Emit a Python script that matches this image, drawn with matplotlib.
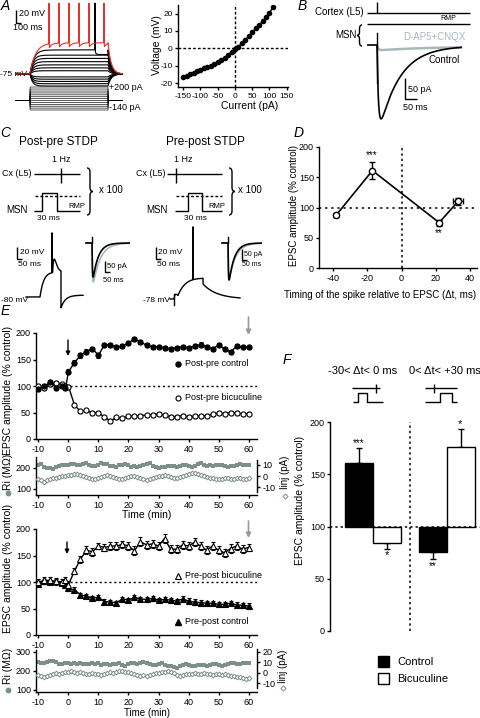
import numpy as np
import matplotlib
matplotlib.use('Agg')
import matplotlib.pyplot as plt
from matplotlib.path import Path
from matplotlib.patches import PathPatch, Rectangle

plt.rcParams['font.family'] = ['Liberation Sans', 'DejaVu Sans']
plt.rcParams['axes.unicode_minus'] = False
plt.rcParams['axes.linewidth'] = 1.0
plt.rcParams['xtick.major.width'] = 1.0
plt.rcParams['ytick.major.width'] = 1.0
plt.rcParams['xtick.major.size'] = 2.5
plt.rcParams['ytick.major.size'] = 2.5
plt.rcParams['xtick.major.pad'] = 1.5
plt.rcParams['ytick.major.pad'] = 1.2
plt.rcParams['xtick.labelsize'] = 6.5
plt.rcParams['ytick.labelsize'] = 6.5

# ======================= DATA =======================
# A: I-V relation
iv_current = [-150, -140, -130, -120, -110, -100, -90, -80, -70, -60, -50, -40, -30,
              -20, -10, 0, 10, 20, 30, 40, 50, 60, 70, 80, 90, 100, 110]
iv_voltage = [-16.5, -16, -15, -14, -13, -12.2, -11.5, -10.8, -10, -9, -8, -6.8, -5.3,
              -3.8, -2, -0.5, 1, 3, 5, 7, 9.3, 11.5, 13.5, 15.5, 18, 20.5, 23.5]
# A: sample voltage traces (steady-state deflection, mV) and injected steps (pA)
a_levels = [-18.5, -15, -11.5, -8, -4.5, 5, 9.5, 14, 19, 24, 29]
a_top_level = 37
a_red_level = 48
a_red_spike_times = [486, 629, 771, 914, 1057, 1271]
a_black_spike_time = 1143
a_steps = [-140, -112, -84, -56, -28, 0, 28, 56, 84, 112, 140, 170, 200]

# D: STDP curve
d_dt = [-38, -17, 22, 33]
d_amp = [88, 161, 75, 110]
d_amp_err = [3, 14, 5, 6]
d_dt_err = [0, 0, 0, 3]

# E: time courses
t_main = [-10, -8, -6, -4, -2, -1] + list(range(0, 61, 2))
postpre_ctrl = [95, 100, 107, 96, 100, 96,
                127, 144, 158, 165, 170, 158, 178, 178, 173, 175, 181, 189, 183, 177, 174, 174,
                172, 170, 172, 174, 172, 175, 178, 174, 170, 177, 170, 164, 175, 173, 173]
postpre_ctrl_err = [4, 3, 4, 3, 3, 4, 5, 5, 5, 5, 4, 5, 4, 4, 4, 4, 4, 4, 4, 4, 4, 4,
                    4, 4, 4, 4, 4, 4, 5, 4, 4, 4, 4, 4, 4, 4, 4]
postpre_bic = [100, 96, 103, 106, 103, 100,
               99, 64, 52, 54, 49, 50, 41, 34, 41, 39, 43, 43, 44, 45, 46, 47,
               45, 42, 42, 44, 42, 43, 43, 44, 47, 49, 48, 50, 49, 47, 48]
postpre_bic_err = [3, 3, 3, 3, 3, 3, 3, 3, 3, 3, 3, 3, 3, 3, 3, 3, 3, 3, 3, 3, 3, 3,
                   3, 3, 3, 3, 3, 3, 3, 3, 3, 3, 3, 3, 3, 3, 3]
prepost_bic = [100, 103, 103, 101, 100, 103,
               95, 121, 143, 160, 157, 168, 165, 168, 168, 171, 168, 159, 176, 170, 172, 168,
               182, 162, 162, 170, 168, 175, 168, 160, 168, 160, 155, 163, 168, 162, 165]
prepost_bic_err = [5, 6, 6, 6, 6, 6, 7, 6, 7, 7, 7, 6, 7, 7, 7, 7, 7, 8, 8, 7, 7, 7,
                   8, 8, 8, 7, 7, 8, 7, 7, 8, 7, 7, 8, 8, 7, 7]
prepost_ctrl = [97, 101, 100, 102, 98, 95,
                88, 85, 76, 73, 70, 71, 63, 62, 61, 68, 66, 71, 68, 67, 69, 66,
                67, 66, 64, 68, 64, 62, 61, 60, 60, 58, 58, 60, 57, 56, 55]
prepost_ctrl_err = [4, 4, 4, 4, 4, 5, 5, 5, 4, 4, 4, 4, 4, 4, 4, 4, 4, 5, 4, 4, 4, 4,
                    4, 4, 4, 5, 5, 5, 5, 4, 4, 4, 4, 4, 5, 5, 5]

t_ri = list(range(-10, 61))
ri_top = [215, 218, 205, 200, 198, 196, 205, 210, 212, 215,
          214, 218, 220, 215, 212, 218, 222, 215, 210, 208,
          212, 225, 220, 218, 210, 208, 205, 212, 215, 220,
          212, 206, 210, 202, 208, 215, 220, 222, 210, 205,
          200, 204, 206, 208, 210, 210, 206, 208, 212, 215,
          210, 205, 210, 218, 222, 214, 208, 212, 210, 215,
          216, 214, 210, 206, 208, 210, 215, 218, 212, 214, 214]
inj_top = [-3, -4, -5, -4, -3, -2, -2, -1, 0, 0,
           1, 1, 2, 2, 1, 0, -1, -2, -3, -3,
           -2, -1, 0, 1, 0, -1, -2, -3, -3, -2,
           -1, 0, 0, -1, -2, -3, -4, -3, -2, -1,
           0, 0, 1, 0, -1, -2, -2, -1, 0, 1,
           2, 3, 3, 2, 1, 0, -1, -2, -2, -3,
           -3, -3, -2, -2, -3, -3, -2, -2, -3, -3, -2]
ri_bot = [245, 240, 242, 248, 252, 250, 245, 238, 235, 240,
          242, 238, 240, 236, 240, 238, 235, 238, 240, 236,
          240, 232, 238, 236, 230, 234, 238, 240, 232, 228,
          235, 240, 242, 238, 244, 248, 242, 236, 232, 230,
          235, 240, 232, 228, 225, 222, 215, 228, 232, 236,
          230, 226, 228, 230, 232, 230, 228, 232, 236, 234,
          230, 228, 232, 236, 240, 242, 238, 236, 240, 242, 240]
inj_bot = [-2, -3, -4, -3, -2, -1, 0, -1, 0, 1,
           1, 2, 1, 0, 1, 0, -1, -1, 0, -1,
           -1, -2, -1, 0, 1, 0, 1, 2, 2, 1,
           1, 0, -1, -2, -3, -2, -3, -2, -1, 0,
           0, 1, 1, 2, 1, 0, -2, -3, -2, -1,
           -1, -1, 0, -1, -1, 0, -1, -1, -2, -1,
           -1, -2, -1, -2, -3, -3, -4, -4, -5, -6, -5]

# F: summary bars
f_groups = ['-30< \u0394t< 0 ms', '0< \u0394t< +30 ms']
f_ctrl = [161, 76]
f_ctrl_err = [14, 7]
f_bic = [84, 176]
f_bic_err = [6, 17]

for arr in (postpre_ctrl, postpre_ctrl_err, postpre_bic, postpre_bic_err,
            prepost_bic, prepost_bic_err, prepost_ctrl, prepost_ctrl_err):
    assert len(arr) == len(t_main), len(arr)
for arr in (ri_top, inj_top, ri_bot, inj_bot):
    assert len(arr) == len(t_ri), len(arr)

# ======================= LAYOUT HELPERS =======================
W, H = 480, 718
fig = plt.figure(figsize=(W / 100, H / 100), dpi=100)


def box(x0, y0, x1, y1):
    ax = fig.add_axes([x0 / W, 1 - y1 / H, (x1 - x0) / W, (y1 - y0) / H])
    ax.patch.set_alpha(0)
    return ax


cv = box(0, 0, W, H)
cv.set_xlim(0, W)
cv.set_ylim(H, 0)
cv.axis('off')

GREY = '#7d8f89'
LGREY = '#a7b8bb'
RED = '#e8312b'


def T(x, y, s, fs=7, ha='center', va='center', **kw):
    cv.text(x, y, s, fontsize=fs, ha=ha, va=va, **kw)


def L(xs, ys, **kw):
    kw.setdefault('color', 'k')
    kw.setdefault('lw', 1)
    cv.plot(xs, ys, solid_capstyle='butt', **kw)


def brace(x, y0, y1, w, right=True):
    s = 1 if right else -1
    ym = (y0 + y1) / 2
    xm = x + s * w / 2
    xt = x + s * w
    r = min(4, (y1 - y0) / 6)
    verts = [(x, y0), (xm, y0), (xm, y0 + r), (xm, ym - r), (xm, ym), (xt, ym),
             (xm, ym), (xm, ym + r), (xm, y1 - r), (xm, y1), (x, y1)]
    codes = [Path.MOVETO, Path.CURVE3, Path.CURVE3, Path.LINETO, Path.CURVE3, Path.CURVE3,
             Path.CURVE3, Path.CURVE3, Path.LINETO, Path.CURVE3, Path.CURVE3]
    cv.add_patch(PathPatch(Path(verts, codes), fc='none', ec='k', lw=1))


def style(ax):
    ax.spines['top'].set_visible(False)
    ax.spines['right'].set_visible(False)


def dexp(t, amp, tr, td):
    t = np.asarray(t, float)
    tc = np.clip(t, 0, None)
    f = np.where(t > 0, np.exp(-tc / td) - np.exp(-tc / tr), 0)
    tp = tr * td / (td - tr) * np.log(td / tr)
    fmax = np.exp(-tp / td) - np.exp(-tp / tr)
    return amp * f / fmax


def letter(x, y, s):
    T(x, y, s, fs=10, style='italic')

# ======================= PANEL A =======================
letter(5, 6, 'A')
L([16, 16, 21], [10, 23, 23])
T(19, 14, '20 mV', fs=6.5, ha='left')
T(13, 28, '100 ms', fs=6.5, ha='left')
T(0.5, 74, '-75 mV', fs=6, ha='left')
T(109, 88, '+200 pA', fs=6.5, ha='left')
T(109, 108, '-140 pA', fs=6.5, ha='left')

ax_a = box(15, 0, 123, 97)
ax_a.set_xlim(0, 1543)
ax_a.set_ylim(-35.4, 113.8)
ax_a.axis('off')
ta = np.linspace(0, 1543, 5000)
t_on, t_off = 214, 1329


def step_resp(level, tau=40, tau_off=45):
    v = np.zeros_like(ta)
    on = (ta >= t_on) & (ta < t_off)
    v[on] = level * (1 - np.exp(-(ta[on] - t_on) / tau))
    v_end = level * (1 - np.exp(-(t_off - t_on) / tau))
    off = ta >= t_off
    v[off] = v_end * np.exp(-(ta[off] - t_off) / tau_off)
    return v


def add_spike(v, ts, peak=109, width=2.5):
    g = np.exp(-((ta - ts) / width) ** 2)
    return v + (peak - v) * g


for lev in a_levels:
    ax_a.plot(ta, step_resp(lev, tau=35 if lev < 0 else 45), color='k', lw=0.8)
vb = step_resp(a_top_level, tau=55)
after = ta > a_black_spike_time
vb[after] -= 7 * (1 - np.exp(-(ta[after] - a_black_spike_time) / 10)) * (ta[after] < t_off)
vb = add_spike(vb, a_black_spike_time)
ax_a.plot(ta, vb, color='k', lw=0.8)
vr = step_resp(a_red_level, tau=80)
for ts in a_red_spike_times:
    m = (ta > ts) & (ta < t_off)
    vr[m] -= 7 * np.exp(-(ta[m] - ts) / 35)
for ts in a_red_spike_times:
    vr = add_spike(vr, ts)
ax_a.plot(ta, vr, color=RED, lw=0.8)

ax_i = box(15, 85, 123, 112)
ax_i.set_xlim(0, 1543)
ax_i.set_ylim(-169.6, 229.6)
ax_i.axis('off')
for amp in a_steps:
    ii = np.where((ta >= t_on) & (ta < t_off), amp, 0)
    ax_i.plot(ta, ii, color='k', lw=0.45)

# I-V plot
ax_iv = box(178, 5, 288, 87)
style(ax_iv)
ax_iv.set_xlim(-165, 153.6)
ax_iv.set_ylim(-22.2, 24.9)
ax_iv.axhline(0, color='k', lw=1, ls=(0, (2, 1.5)))
ax_iv.axvline(0, color='k', lw=1, ls=(0, (2, 1.5)))
ax_iv.plot(iv_current, iv_voltage, '-o', color='k', ms=3, lw=1)
ax_iv.set_xticks([-150, -100, -50, 0, 50, 100, 150])
ax_iv.set_yticks([-20, -10, 0, 10, 20])
ax_iv.tick_params(labelsize=6)
T(157, 45, 'Voltage (mV)', fs=7.5, rotation=90)
T(250, 106, 'Current (pA)', fs=7.5)

# ======================= PANEL B =======================
letter(302, 6, 'B')
T(364, 12, 'Cortex (L5)', fs=7, ha='right')
L([367, 470], [13, 13])
L([377, 377], [2, 13])
L([367, 470], [24, 24])
T(448, 19, 'RMP', fs=5)
T(346, 35, 'MSN', fs=7)
brace(362, 25, 46, 5, right=False)
T(434, 37, 'D-AP5+CNQX', fs=7, color=LGREY)
T(444, 60, 'Control', fs=7)
L([405, 405, 417], [78, 99, 99])
T(408, 89, '50 pA', fs=6.5, ha='left')
T(403, 108, '50 ms', fs=6.5, ha='left')

ax_b = box(360, 30, 475, 125)
ax_b.set_xlim(-70.8, 408)
ax_b.set_ylim(-190.5, 35.7)
ax_b.axis('off')
tb = np.linspace(-38, 350, 3000)
grey_b = np.where(tb > 2, dexp(tb - 2, -8, 5, 200) - 4, np.nan)
ax_b.plot(tb, grey_b, color=LGREY, lw=1.8)
ax_b.plot(tb, dexp(tb, -174, 6, 85) - 2 * (tb > 0), color='k', lw=1.2)
ax_b.plot([0, 0], [28, -90], color='k', lw=1)

# ======================= PANEL C =======================
letter(5, 133, 'C')
T(58, 142, 'Post-pre STDP', fs=8.5)
T(205, 142, 'Pre-post STDP', fs=8.5)
for (cx_l, cx_r, tick, st0, sta, stb, st1, brx, lab_x, x100, rmp_x, ms_x, hz_x, msn_x) in [
        (34, 80, 61, 34, 42, 57, 80, 87, 31, 111, 77, 48, 61, 17),
        (167, 222, 176, 175, 188, 202, 222, 229, 166, 250, 217, 195, 183, 157)]:
    T(hz_x, 159, '1 Hz', fs=6.5)
    T(lab_x, 174, 'Cx (L5)', fs=6.5, ha='right')
    L([cx_l, cx_r], [174, 174])
    L([tick, tick], [168, 183])
    L([st0, sta, sta, stb, stb, st1], [211, 211, 193, 193, 211, 211])
    L([st0 + 1, st1], [196, 196], ls=(0, (2, 1.5)))
    brace(brx, 168, 215, 6, right=True)
    T(x100, 190, 'x 100', fs=7)
    T(msn_x, 210, 'MSN', fs=7)
    T(rmp_x, 206, 'RMP', fs=5.5)
    T(ms_x, 218, '30 ms', fs=6)

# scale bars
L([17, 17, 22], [247, 259, 259])
T(20, 252, '20 mV', fs=6, ha='left')
T(18, 264, '50 ms', fs=6, ha='left')
L([105, 105, 110], [261, 272, 272])
T(107, 266, '50 pA', fs=5.5, ha='left')
T(103, 281, '50 ms', fs=5.5, ha='left')
L([156, 156, 161], [247, 259, 259])
T(158, 252, '20 mV', fs=6, ha='left')
T(157, 264, '50 ms', fs=6, ha='left')
L([242, 242, 247], [249, 260, 260])
T(244, 254, '50 pA', fs=5, ha='left')
T(242, 265, '50 ms', fs=5, ha='left')
T(1, 300, '-80 mV', fs=6, ha='left')
T(170, 300, '-78 mV', fs=6, ha='right')

# post-pre spike trace
ax_cs1 = box(25, 225, 85, 312)
ax_cs1.set_xlim(0, 300)
ax_cs1.set_ylim(-105, 40)
ax_cs1.axis('off')
tc = np.linspace(5, 290, 4000)
vc = np.full_like(tc, -80.0)
on = (tc >= 75) & (tc < 180)
vc[on] += 42 * (1 - np.exp(-(tc[on] - 75) / 18))
ep = (tc > 138) & (tc < 180)
vc[ep] += 22 * ((tc[ep] - 138) / 8) * np.exp(1 - (tc[ep] - 138) / 8)
vc = np.where(np.abs(tc - 135) < 1.2, 26.7, vc)
off = tc >= 180
vc[off] = -77 - 21 * np.exp(-(tc[off] - 180) / 22)
ax_cs1.plot(tc, vc, color='k', lw=1)

# pre-post spike trace
ax_cs2 = box(165, 222, 245, 312)
ax_cs2.set_xlim(0, 400)
ax_cs2.set_ylim(-99.7, 50.3)
ax_cs2.axis('off')
tc2 = np.linspace(25, 375, 4000)
vc2 = np.full_like(tc2, -78.0)
ep2 = tc2 > 45
vc2[ep2] += 8 * ((tc2[ep2] - 45) / 10) * np.exp(1 - (tc2[ep2] - 45) / 10)
on2 = (tc2 >= 65) & (tc2 < 190)
vc2[on2] += 35 * (1 - np.exp(-(tc2[on2] - 65) / 30))
vc2 = np.where(np.abs(tc2 - 140) < 1.2, 42, vc2)
off2 = tc2 >= 190
vc2[off2] = -78 + 25 * np.exp(-(tc2[off2] - 190) / 70)
ax_cs2.plot(tc2, vc2, color='k', lw=1)
ax_cs2.plot([45, 45], [-70, -88], color='k', lw=1)

# EPSC traces
for (x0, x1, stim, a_blk, a_gry, td_b, td_g) in [(84, 130, 67, -170, -195, 45, 60),
                                                  (220, 262, 67, -185, -170, 45, 55)]:
    axe = box(x0, 232, x1, 290)
    axe.set_xlim(0, (x1 - x0) / 0.12)
    axe.set_ylim(-235, 55)
    axe.axis('off')
    te = np.linspace(17, (x1 - x0) / 0.12 - 5, 2000)
    axe.plot(te, dexp(te - stim, a_gry, 3.5, td_g), color=LGREY, lw=1.2)
    axe.plot(te, dexp(te - stim, a_blk, 3, td_b), color='k', lw=1.2)
    axe.plot([stim, stim], [0, 30], color='k', lw=1)

# ======================= PANEL D =======================
letter(299, 133, 'D')
ax_d = box(319, 147, 477, 268)
style(ax_d)
ax_d.set_xlim(-48.2, 44.1)
ax_d.set_ylim(0, 200)
ax_d.axhline(100, color='k', lw=1.1, ls=(0, (1.5, 2.5)))
ax_d.axvline(0, color='k', lw=1.1, ls=(0, (1.5, 2)))
ax_d.plot(d_dt, d_amp, '-', color='k', lw=1.2)
ax_d.errorbar(d_dt, d_amp, yerr=d_amp_err, xerr=d_dt_err, fmt='o', ms=4.5, mfc='w',
              mec='k', mew=1, ecolor='k', elinewidth=1, capsize=2, zorder=3)
ax_d.set_xticks([-40, -20, 0, 20, 40])
ax_d.set_yticks([0, 50, 100, 150, 200])
ax_d.tick_params(labelsize=6.5)
T(372, 155, '***', fs=7)
T(439, 233, '**', fs=7)
T(294, 205, 'EPSC amplitude (% control)', fs=7, rotation=90)
T(380, 295, 'Timing of the spike relative to EPSC (\u0394t, ms)', fs=7)

# ======================= PANEL E =======================
letter(5, 311, 'E')
XL = (-10.83, 62.83)


def main_axes(y0, y1):
    ax = box(36, y0, 257, y1)
    style(ax)
    ax.set_xlim(*XL)
    ax.set_ylim(0, 200)
    ax.set_xticks(range(-10, 61, 10))
    ax.set_yticks([0, 50, 100, 150, 200])
    ax.plot([-10.83, 62.83], [100, 100], color='k', lw=1, ls=(0, (1.5, 2)))
    return ax


def ri_axes(y0, y1, ylim, yticks, iy0, iy1, ilim, iticks):
    ax = box(36, y0, 257, y1)
    style(ax)
    ax.set_xlim(*XL)
    ax.set_ylim(*ylim)
    ax.set_xticks(range(-10, 61, 10))
    ax.set_yticks(yticks)
    ax2 = box(36, iy0, 257, iy1)
    ax2.set_xlim(*XL)
    ax2.set_ylim(*ilim)
    for s in ['top', 'left', 'bottom']:
        ax2.spines[s].set_visible(False)
    ax2.set_xticks([])
    ax2.yaxis.tick_right()
    ax2.set_yticks(iticks)
    return ax, ax2


def emain(ax, y, err, marker, filled):
    ax.errorbar(t_main, y, yerr=err, fmt='-' + marker, color='k', ms=3.7 if marker == 'o' else 4,
                mfc='k' if filled else 'w', mec='k', mew=0.8, lw=1, elinewidth=0.8,
                capsize=1.6, capthick=0.8, zorder=3)


ax_e1 = main_axes(333, 439)
emain(ax_e1, postpre_bic, postpre_bic_err, 'o', False)
emain(ax_e1, postpre_ctrl, postpre_ctrl_err, 'o', True)
ax_r1, ax_j1 = ri_axes(457, 495, (71, 252), [100, 200], 460, 492, (-14.5, 14.5), [-10, 0, 10])
ax_r1.plot(t_ri, ri_top, 's', color=GREY, ms=2.6, mew=0)
ax_j1.plot(t_ri, inj_top, 'D', mfc='w', mec=GREY, ms=2.4, mew=0.7)

ax_e2 = main_axes(529, 635)
emain(ax_e2, prepost_ctrl, prepost_ctrl_err, '^', True)
emain(ax_e2, prepost_bic, prepost_bic_err, '^', False)
ax_r2, ax_j2 = ri_axes(650, 692, (89, 310), [100, 200, 300], 649, 688, (-14.7, 22.8),
                       [-10, 0, 10, 20])
ax_r2.plot(t_ri, ri_bot, 's', color=GREY, ms=2.6, mew=0)
ax_j2.plot(t_ri, inj_bot, 'D', mfc='w', mec=GREY, ms=2.4, mew=0.7)

# arrows
arr_k = dict(arrowstyle='-|>', color='k', lw=1, mutation_scale=6, shrinkA=0, shrinkB=0)
arr_g = dict(arrowstyle='-|>', color='#999999', lw=1.2, mutation_scale=7, shrinkA=0, shrinkB=0)
cv.annotate('', xy=(68, 356), xytext=(68, 340), arrowprops=arr_k)
cv.annotate('', xy=(248.5, 335), xytext=(248.5, 317), arrowprops=arr_g)
cv.annotate('', xy=(67, 554), xytext=(67, 542), arrowprops=arr_k)
cv.annotate('', xy=(248.5, 538), xytext=(248.5, 521), arrowprops=arr_g)

# legends E
cv.plot(178, 364, 'o', color='k', ms=3.6)
T(185, 364, 'Post-pre control', fs=6.5, ha='left')
cv.plot(178, 398, 'o', mfc='w', mec='k', ms=3.6, mew=0.8)
T(185, 398, 'Post-pre bicuculine', fs=6.5, ha='left')
cv.plot(178, 576, '^', mfc='w', mec='k', ms=3.8, mew=0.8)
T(185, 576, 'Pre-post bicuculine', fs=6.5, ha='left')
cv.plot(178, 622, '^', color='k', ms=3.8)
T(185, 622, 'Pre-post control', fs=6.5, ha='left')

# axis labels E
T(8, 390, 'EPSC amplitude (% control)', fs=7.5, rotation=90)
T(8, 568, 'EPSC amplitude (% control)', fs=7.5, rotation=90)
T(8, 472, 'Ri (M\u03a9)', fs=7.5, rotation=90)
cv.plot(8, 493, 'o', color=GREY, ms=3.2)
T(8, 666, 'Ri (M\u03a9)', fs=7.5, rotation=90)
cv.plot(8, 690, 'o', color=GREY, ms=3.2)
T(285, 472, 'Iinj (pA)', fs=7, rotation=90)
cv.plot(285, 496, 'D', mfc='w', mec=GREY, ms=2.6, mew=0.7)
T(283, 666, 'Iinj (pA)', fs=7, rotation=90)
cv.plot(283, 688, 'D', mfc='w', mec=GREY, ms=2.6, mew=0.7)
T(147, 515, 'Time (min)', fs=7.5)
T(147, 712.5, 'Time (min)', fs=7)

# ======================= PANEL F =======================
letter(287, 360, 'F')
ax_f = box(330, 422, 480, 631)
for s in ['top', 'right', 'bottom']:
    ax_f.spines[s].set_visible(False)
ax_f.set_xlim(0, 150)
ax_f.set_ylim(0, 200)
ax_f.set_xticks([])
ax_f.set_yticks([0, 50, 100, 150, 200])
ax_f.axhline(100, color='k', lw=1.1, ls=(0, (1.5, 2)), zorder=4)
ax_f.axvline(80, color='k', lw=1.1, ls=(0, (1.5, 2)))
centers = [43 + 74 * i for i in range(len(f_groups))]
bw = 28
for i, c in enumerate(centers):
    for val, err, off, fc in [(f_ctrl[i], f_ctrl_err[i], -bw / 2, 'k'),
                              (f_bic[i], f_bic_err[i], bw / 2, 'w')]:
        ax_f.bar(c + off, val - 100, bottom=100, width=bw, color=fc, edgecolor='k', lw=1, zorder=2)
        yerr = [[0], [err]] if val > 100 else [[err], [0]]
        ax_f.errorbar([c + off], [val], yerr=yerr, fmt='none', ecolor='k', elinewidth=1,
                      capsize=2.5, capthick=1, zorder=1)
T(359, 443, '***', fs=7)
T(387, 555, '*', fs=8)
T(433, 566, '**', fs=7)
T(460, 424, '*', fs=8)
T(300, 500, 'EPSC amplitude (% control)', fs=7.5, rotation=90)
T(363, 371, f_groups[0], fs=8)
T(445, 371, f_groups[1], fs=8)
# icons
L([352, 380], [388, 388])
L([376, 376], [384, 393])
L([353, 358, 358, 367, 367, 383], [402, 402, 393, 393, 402, 402])
L([425, 457], [388, 388])
L([434, 434], [384, 393])
L([425, 440, 440, 452, 452, 457], [402, 402, 393, 393, 402, 402])
# legend
cv.add_patch(Rectangle((378, 656), 11, 11, fc='k', ec='k', lw=1))
cv.add_patch(Rectangle((378, 673), 11, 11, fc='w', ec='k', lw=1))
T(397, 662, 'Control', fs=8, ha='left')
T(397, 679, 'Bicuculine', fs=8, ha='left')

fig.savefig('out.png', dpi=100)
